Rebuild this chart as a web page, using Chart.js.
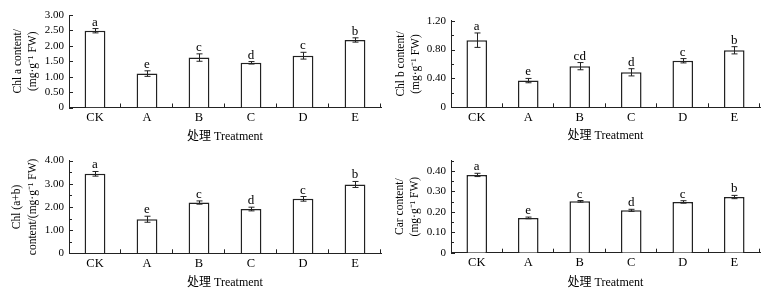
<!DOCTYPE html>
<html>
<head>
<meta charset="utf-8">
<script src="https://cdn.jsdelivr.net/npm/chart.js@4"></script>
<style>
  body { margin: 0; background: #fff; }
  #wrap { position: relative; width: 772px; height: 298px; overflow: hidden; background: #fff; }
  canvas { position: absolute; }
</style>
</head>
<body>
<div id="wrap">
  <canvas id="c1" width="386" height="149" style="left:0;top:0"></canvas>
  <canvas id="c2" width="386" height="149" style="left:386px;top:0"></canvas>
  <canvas id="c3" width="386" height="149" style="left:0;top:149px"></canvas>
  <canvas id="c4" width="386" height="149" style="left:386px;top:149px"></canvas>
</div>
<script>
// treatments
const categories = ["CK", "A", "B", "C", "D", "E"];

// Chl a
const chlA = [2.49, 1.10, 1.62, 1.45, 1.68, 2.19];
const chlAErr = [0.07, 0.09, 0.12, 0.04, 0.11, 0.07];
const chlALetters = ["a", "e", "c", "d", "c", "b"];

// Chl b
const chlB = [0.93, 0.37, 0.57, 0.485, 0.645, 0.79];
const chlBErr = [0.10, 0.03, 0.05, 0.05, 0.03, 0.05];
const chlBLetters = ["a", "e", "cd", "d", "c", "b"];

// Chl (a+b)
const chlAB = [3.43, 1.47, 2.19, 1.91, 2.35, 2.97];
const chlABErr = [0.10, 0.13, 0.07, 0.08, 0.10, 0.13];
const chlABLetters = ["a", "e", "c", "d", "c", "b"];

// Car
const car = [0.38, 0.17, 0.251, 0.207, 0.248, 0.272];
const carErr = [0.008, 0.004, 0.004, 0.005, 0.006, 0.008];
const carLetters = ["a", "e", "c", "d", "c", "b"];

const serif = '"Liberation Serif", "Times New Roman", "Noto Sans CJK SC", serif';
const ink = "#222";

// error bars, significance letters and inward tick marks
const extras = {
  id: "extras",
  afterDatasetsDraw(chart) {
    const cfg = chart.config.options.plugins.extras;
    const ctx = chart.ctx;
    const y = chart.scales.y;
    const meta = chart.getDatasetMeta(0);
    ctx.save();
    ctx.strokeStyle = ink;
    ctx.lineWidth = 1;
    ctx.fillStyle = "#000";
    ctx.font = "13px " + serif;
    ctx.textAlign = "center";
    ctx.textBaseline = "alphabetic";
    meta.data.forEach((bar, i) => {
      const v = cfg.values[i], e = cfg.errors[i];
      const x = Math.round(bar.x) + 0.5;
      const top = y.getPixelForValue(v + e);
      const bot = y.getPixelForValue(v - e);
      ctx.beginPath();
      ctx.moveTo(x, top); ctx.lineTo(x, bot);
      ctx.moveTo(x - 3, top); ctx.lineTo(x + 3, top);
      ctx.moveTo(x - 3, bot); ctx.lineTo(x + 3, bot);
      ctx.stroke();
      ctx.fillText(cfg.letters[i], bar.x, top - 3);
    });
    ctx.restore();
  },
  afterDraw(chart) {
    const cfg = chart.config.options.plugins.extras;
    const ctx = chart.ctx;
    const a = chart.chartArea;
    const y = chart.scales.y;
    ctx.save();
    ctx.strokeStyle = ink;
    ctx.lineWidth = 1;
    ctx.beginPath();
    y.ticks.forEach(t => {
      const py = Math.round(y.getPixelForValue(t.value)) + 0.5;
      const major = Math.abs(t.value / cfg.major - Math.round(t.value / cfg.major)) < 1e-6;
      ctx.moveTo(a.left, py);
      ctx.lineTo(a.left + (major ? 4 : 3), py);
    });
    const n = categories.length;
    for (let i = 1; i <= n; i++) {
      const px = Math.round(a.left + (a.right - a.left) * i / n) - 0.5;
      ctx.moveTo(px, a.bottom);
      ctx.lineTo(px, a.bottom - 4);
    }
    ctx.stroke();
    ctx.restore();
  }
};

function panel(id, values, errors, letters, o) {
  new Chart(document.getElementById(id), {
    type: "bar",
    data: {
      labels: categories,
      datasets: [{
        data: values,
        backgroundColor: "#fff",
        borderColor: ink,
        borderWidth: 1.5,
        barPercentage: 0.4,
        categoryPercentage: 1.0
      }]
    },
    plugins: [extras],
    options: {
      responsive: false,
      animation: false,
      layout: { padding: { left: 0, right: o.padRight, top: o.padTop, bottom: 0 } },
      plugins: {
        legend: { display: false },
        tooltip: { enabled: false },
        extras: { values: values, errors: errors, letters: letters, major: o.major }
      },
      scales: {
        x: {
          grid: { display: false, drawTicks: false },
          border: { display: true, color: ink, width: 1 },
          ticks: { color: "#000", padding: 3, font: { family: serif, size: 12.5 } },
          title: {
            display: true,
            text: "处理 Treatment",
            color: "#000",
            font: { family: serif, size: 12, lineHeight: "14px" },
            padding: { top: 0, bottom: o.xTitlePad }
          },
          afterFit(s) { s.height = o.xHeight; }
        },
        y: {
          min: 0,
          max: o.max,
          grid: { display: false, drawTicks: false },
          border: { display: true, color: ink, width: 1 },
          ticks: {
            stepSize: o.step,
            color: "#000",
            padding: 5,
            autoSkip: false,
            font: { family: serif, size: 11 },
            callback(v) {
              if (Math.abs(v / o.major - Math.round(v / o.major)) > 1e-6) return "";
              return v === 0 ? "0" : v.toFixed(2);
            }
          },
          title: {
            display: true,
            text: o.yTitle,
            color: "#000",
            font: { family: serif, size: 11.5, lineHeight: "15.5px" },
            padding: { top: o.yTitlePad, bottom: 0 }
          },
          afterFit(s) { s.width = o.yWidth; }
        }
      }
    }
  });
}

panel("c1", chlA, chlAErr, chlALetters, {
  max: 3, step: 0.5, major: 0.5,
  yTitle: ["Chl a content/", "(mg·g⁻¹ FW)"],
  yWidth: 69, padRight: 5, padTop: 15, xHeight: 41.5, xTitlePad: 5, yTitlePad: 9.75
});
panel("c2", chlB, chlBErr, chlBLetters, {
  max: 1.2, step: 0.2, major: 0.4,
  yTitle: ["Chl b content/", "(mg·g⁻¹ FW)"],
  yWidth: 65, padRight: 12, padTop: 20.7, xHeight: 41.7, xTitlePad: 6, yTitlePad: 7
});
panel("c3", chlAB, chlABErr, chlABLetters, {
  max: 4, step: 0.5, major: 1,
  yTitle: ["Chl (a+b)", "content/(mg·g⁻¹ FW)"],
  yWidth: 69, padRight: 5, padTop: 11.3, xHeight: 44.7, xTitlePad: 8, yTitlePad: 9.25
});
panel("c4", car, carErr, carLetters, {
  max: 0.45, step: 0.05, major: 0.1,
  yTitle: ["Car content/", "(mg·g⁻¹ FW)"],
  yWidth: 65, padRight: 12, padTop: 6.2, xHeight: 45.3, xTitlePad: 8, yTitlePad: 5.75
});
</script>
</body>
</html>
